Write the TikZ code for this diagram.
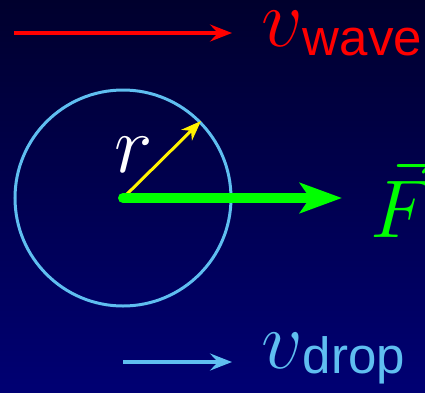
\RequirePackage{fix-cm}
\documentclass[tikz,border=0pt]{standalone}
\usepackage{fontspec}
\newfontfamily\subsans{Liberation Sans}
\usetikzlibrary{arrows.meta}
\definecolor{bgtop}{RGB}{0,0,45}
\definecolor{bgbot}{RGB}{0,0,115}
\definecolor{lblue}{RGB}{95,190,240}
\definecolor{vgreen}{RGB}{0,255,0}
\tikzset{
  lbl/.style={inner sep=0pt, anchor=base west},
  thinarrow/.style={line width=3.5pt, -{Stealth[length=22pt,width=17pt,inset=8pt]}},
  bigfont/.style={font=\fontsize{82}{82}\selectfont},
}
\begin{document}
\begin{tikzpicture}[x=1pt,y=-1pt]
\useasboundingbox (0,0) rectangle (425,392);
\shade[top color=bgtop, bottom color=bgbot] (0,0) rectangle (425,392);
% coordinates
\coordinate (c) at (123,198);
\coordinate (ws) at (14,33);
\coordinate (we) at (232,33);
\coordinate (rt) at (201,121);
\coordinate (ft) at (342,198);
\coordinate (ds) at (123,362);
\coordinate (de) at (232,362);
% circle
\node[draw=lblue, line width=3pt, circle, minimum size=216pt, inner sep=0pt] (circ) at (c) {};
% arrows
\draw[red, thinarrow] (ws) -- (we);
\draw[lblue, thinarrow] (ds) -- (de);
\draw[yellow, line width=3pt, -{Stealth[length=20pt,width=15pt,inset=6pt]}] (c) -- (rt);
\draw[vgreen, line width=10pt, line cap=round, -{Stealth[length=42pt,width=30pt,inset=10pt]}] (c) -- (ft);
% labels
\node[lbl, red, bigfont] (vw) at (261,46) {$v$\raisebox{-9pt}{\fontsize{51}{51}\selectfont\subsans wave}};
\node[lbl, lblue, bigfont] (vd) at (261,368) {$v$\raisebox{-5pt}{\fontsize{51}{51}\selectfont\subsans drop}};
\node[lbl, white, bigfont] (r) at (114,172) {$r$};
\node[lbl, vgreen, bigfont] (F) at (370,237) {$\vec F$};
\end{tikzpicture}
\end{document}
